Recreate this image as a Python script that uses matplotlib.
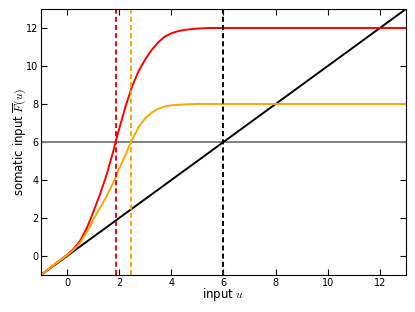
import matplotlib
matplotlib.use("Agg")
import matplotlib.pyplot as plt

plt.rcParams['mathtext.fontset'] = 'cm'

# values
u_red = [-1.0, -0.5, 0.0, 0.25, 0.5, 0.75, 0.88, 1.0, 1.25, 1.5, 1.75, 1.86, 2.0, 2.25, 2.5,
         2.75, 3.0, 3.25, 3.5, 3.75, 4.0, 4.25, 4.5, 5.0, 5.5, 6.0, 13.0]
F_red = [-1.0, -0.46, 0.06, 0.37, 0.8, 1.45, 1.88, 2.3, 3.2, 4.2, 5.4, 6.0, 6.7, 7.9, 8.95,
         9.75, 10.35, 10.85, 11.25, 11.55, 11.72, 11.83, 11.9, 11.97, 12.0, 12.0, 12.0]

u_orange = [-1.0, -0.5, 0.0, 0.25, 0.5, 0.75, 0.88, 1.0, 1.25, 1.5, 1.75, 1.86, 2.0, 2.25, 2.45,
            2.75, 3.0, 3.25, 3.5, 3.75, 4.0, 4.5, 5.0, 13.0]
F_orange = [-1.0, -0.47, 0.04, 0.32, 0.69, 1.25, 1.54, 1.9, 2.5, 3.1, 3.8, 4.15, 4.6, 5.35, 6.0,
            6.8, 7.25, 7.55, 7.75, 7.87, 7.93, 7.98, 8.0, 8.0]

u_line = [-1.0, 13.0]
threshold = 6.0
u_cross_red = 1.86
u_cross_orange = 2.45
u_cross_linear = 6.0

xticks = [0, 2, 4, 6, 8, 10, 12]
yticks = [0, 2, 4, 6, 8, 10, 12]

fig = plt.figure(figsize=(4.15, 3.12), dpi=100)
ax = fig.add_axes([0.0988, 0.1186, 0.8795, 0.8526])

dash = (0, (2.6, 1.6))

ax.axhline(threshold, color='0.5', lw=1.4)
ax.plot(u_line, u_line, color='black', lw=1.4)
ax.plot(u_red, F_red, color='red', lw=1.4)
ax.plot(u_orange, F_orange, color='orange', lw=1.4)

ax.axvline(u_cross_red, color='red', lw=1.4, ls=dash)
ax.axvline(u_cross_orange, color='orange', lw=1.4, ls=dash)
ax.axvline(u_cross_linear, color='black', lw=1.4, ls=dash)

ax.set_xlim(-1, 13)
ax.set_ylim(-1, 13)
ax.set_xticks(xticks)
ax.set_yticks(yticks)
ax.tick_params(direction='in', top=True, right=True, labelsize=7, length=4, pad=2)
ax.set_xlabel(r"input $u$", fontsize=8.5, labelpad=-1)
ax.set_ylabel(r"somatic input $\overline{F}(u)$", fontsize=8.5, labelpad=-2)

fig.savefig("out.png", dpi=100)
